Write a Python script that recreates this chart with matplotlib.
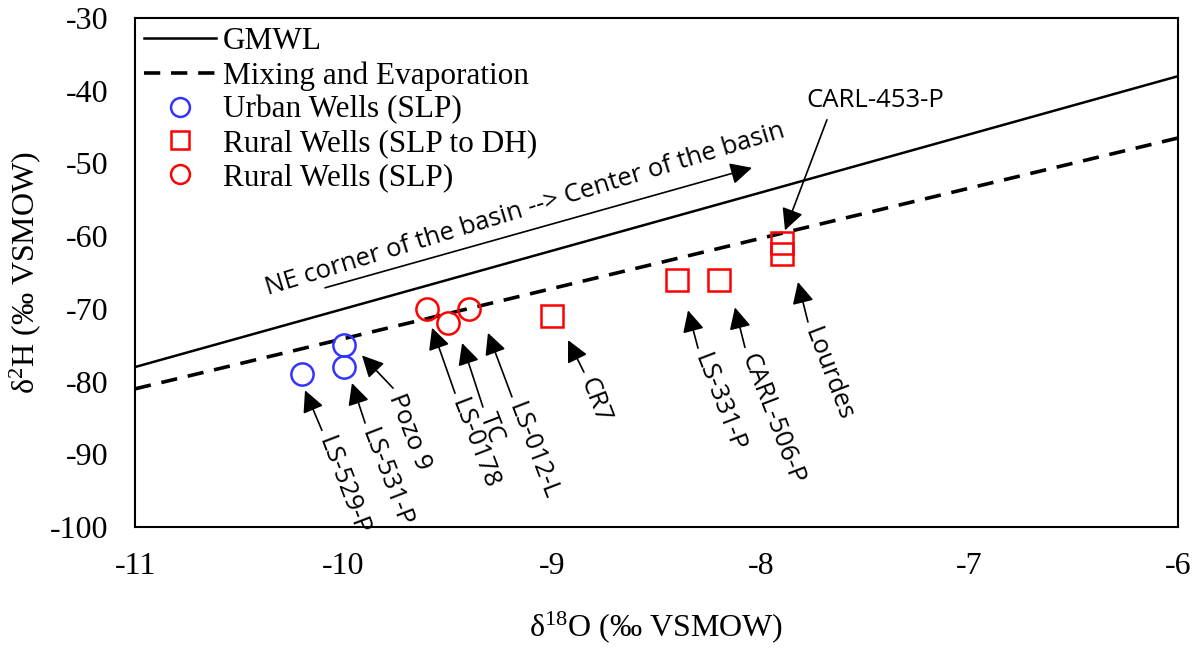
import matplotlib
matplotlib.use("Agg")
import matplotlib.pyplot as plt

plt.rcParams["font.family"] = ["Liberation Serif", "DejaVu Serif"]
plt.rcParams["mathtext.fontset"] = "custom"
plt.rcParams["mathtext.rm"] = "Liberation Serif"
plt.rcParams["mathtext.it"] = "Liberation Serif:italic"
plt.rcParams["mathtext.bf"] = "Liberation Serif:bold"
plt.rcParams["axes.unicode_minus"] = False

# isotope data (d18O, d2H)
urban_x = [-10.2, -10.0, -10.0]
urban_y = [-79, -75, -78]
rural_dh_x = [-9.0, -8.4, -8.2, -7.9, -7.9]
rural_dh_y = [-71, -66, -66, -61, -62.5]
rural_slp_x = [-9.6, -9.5, -9.4]
rural_slp_y = [-70, -72, -70]

# reference lines
gmwl_x = [-11, -6]
gmwl_y = [-78, -38]
mix_x = [-11, -6]
mix_y = [-81, -46.5]

# well labels: name, arrow head, arrow tail
well_names = ["LS-529-P", "LS-531-P", "Pozo 9", "LS-0178", "TC", "LS-012-L",
              "CR7", "LS-331-P", "CARL-506-P", "Lourdes"]
head_x = [-10.185, -9.96, -9.912, -9.576, -9.432, -9.308, -8.924, -8.349, -8.124, -7.822]
head_y = [-81.2, -80.2, -76.4, -72.6, -74.7, -73.3, -74.3, -70.2, -69.8, -66.3]
tail_x = [-10.104, -9.897, -9.763, -9.466, -9.332, -9.193, -8.848, -8.301, -8.076, -7.774]
tail_y = [-86.7, -85.7, -80.9, -81.6, -83.5, -82.1, -78.7, -75.4, -75.3, -71.8]

fig = plt.figure(figsize=(11.98, 6.5), dpi=100)
ax = fig.add_axes([0.1127, 0.1892, 0.8706, 0.7831])

ax.plot(gmwl_x, gmwl_y, color="black", lw=1.8, label="GMWL")
ax.plot(mix_x, mix_y, color="black", lw=2.6, ls=(0, (4.5, 3)), label="Mixing and Evaporation")
ax.plot(urban_x, urban_y, ls="none", marker="o", ms=16, mfc="none", mec="#3333ff", mew=1.8,
        label="Urban Wells (SLP)")
ax.plot(rural_dh_x, rural_dh_y, ls="none", marker="s", ms=16, mfc="none", mec="red", mew=1.8,
        label="Rural Wells (SLP to DH)")
ax.plot(rural_slp_x, rural_slp_y, ls="none", marker="o", ms=16, mfc="none", mec="red", mew=1.8,
        label="Rural Wells (SLP)")

arrow = dict(arrowstyle="-|>,head_length=0.6,head_width=0.3", color="black", lw=1.2,
             mutation_scale=22, shrinkA=0, shrinkB=0)
sans = ["Open Sans", "DejaVu Sans"]

for name, hx, hy, tx, ty in zip(well_names, head_x, head_y, tail_x, tail_y):
    ax.annotate("", xy=(hx, hy), xytext=(tx, ty), arrowprops=arrow)
    # label starts just past the arrow tail, running along the arrow
    ax.annotate(name, xy=(tx, ty), xytext=(1.8, -5.0), textcoords="offset points",
                rotation=-69, rotation_mode="anchor", ha="left", va="center",
                fontsize=18.5, family=sans)

# CARL-453-P sits above the lines
ax.annotate("", xy=(-7.884, -59.2), xytext=(-7.683, -44.0), arrowprops=arrow)
ax.text(-7.452, -41.4, "CARL-453-P", ha="center", va="center", fontsize=18.5, family=sans)

# flow direction across the basin
ax.annotate("", xy=(-8.042, -50.6), xytext=(-10.089, -67.1), arrowprops=arrow)
ax.text(-9.13, -56.4, "NE corner of the basin --> Center of the basin", rotation=17,
        rotation_mode="anchor", ha="center", va="center", fontsize=18.5, family=sans)

ax.set_xlim(-11, -6)
ax.set_ylim(-100, -30)
ax.set_xticks([-11, -10, -9, -8, -7, -6])
ax.set_yticks(range(-100, -29, 10))
ax.tick_params(length=0, labelsize=23)
ax.tick_params(axis="x", pad=18)
ax.tick_params(axis="y", pad=19)
for s in ax.spines.values():
    s.set_linewidth(1.5)

ax.set_xlabel("δ$^{18}$O (‰ VSMOW)", fontsize=23, labelpad=20)
ax.set_ylabel("δ$^{2}$H (‰ VSMOW)", fontsize=23, labelpad=5)

ax.legend(loc="upper left", bbox_to_anchor=(0, 1), frameon=False, fontsize=22.5,
          handlelength=2.3, handletextpad=0.2, labelspacing=0.15, borderaxespad=0.1,
          borderpad=0.2, markerscale=0.85)

fig.savefig("out.png", dpi=100)
